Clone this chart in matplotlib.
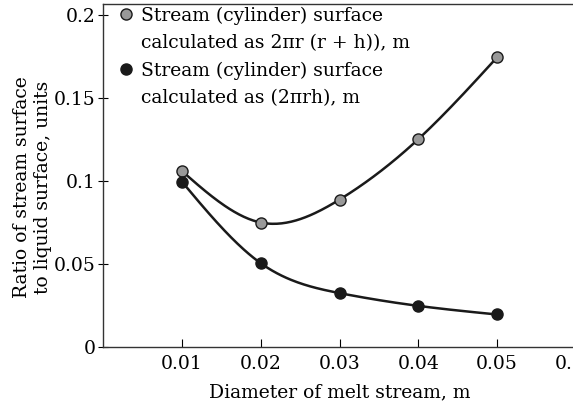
import matplotlib.pyplot as plt
from matplotlib.lines import Line2D
import numpy as np

# diameter of melt stream, m
diam = [0.01, 0.02, 0.03, 0.04, 0.05]
# ratio with surface 2*pi*r*(r+h)
ratio_full = [0.106, 0.075, 0.0888, 0.1252, 0.1745]
# ratio with surface 2*pi*r*h
ratio_side = [0.0996, 0.0505, 0.0325, 0.0248, 0.0196]

lab_full = "Stream (cylinder) surface\ncalculated as 2\u03c0r (r + h)), m"
lab_side = "Stream (cylinder) surface\ncalculated as (2\u03c0rh), m"


def spline(x, y, n=200):
    # natural cubic spline, just for drawing the smooth line
    x = np.asarray(x, float)
    y = np.asarray(y, float)
    k = len(x)
    h = np.diff(x)
    A = np.zeros((k, k))
    b = np.zeros(k)
    A[0, 0] = A[-1, -1] = 1
    for i in range(1, k - 1):
        A[i, i - 1] = h[i - 1]
        A[i, i] = 2 * (h[i - 1] + h[i])
        A[i, i + 1] = h[i]
        b[i] = 6 * ((y[i + 1] - y[i]) / h[i] - (y[i] - y[i - 1]) / h[i - 1])
    M = np.linalg.solve(A, b)
    xs = np.linspace(x[0], x[-1], n)
    j = np.clip(np.searchsorted(x, xs) - 1, 0, k - 2)
    t0 = x[j + 1] - xs
    t1 = xs - x[j]
    hj = h[j]
    ys = (M[j] * t0**3 + M[j + 1] * t1**3) / (6 * hj) \
        + (y[j] / hj - M[j] * hj / 6) * t0 + (y[j + 1] / hj - M[j + 1] * hj / 6) * t1
    return xs, ys


plt.rcParams['font.family'] = ['DejaVu Serif']
plt.rcParams['font.size'] = 13.5

fig = plt.figure(figsize=(5.73, 4.04), dpi=100)
ax = fig.add_axes([0.18, 0.141, 0.825, 0.849])

xs, ys = spline(diam, ratio_full)
ax.plot(xs, ys, color="#1a1a1a", lw=1.8)
xs, ys = spline(diam, ratio_side)
ax.plot(xs, ys, color="#1a1a1a", lw=1.8)
p1, = ax.plot(diam, ratio_full, "o", ms=8, mfc="#999999", mec="#1a1a1a", mew=1.0, ls="none")
p2, = ax.plot(diam, ratio_side, "o", ms=8, mfc="#1a1a1a", mec="#1a1a1a", mew=1.0, ls="none")

ax.set_xlim(0, 0.06)
ax.set_ylim(0, 0.2066)
ax.set_xticks([0.01, 0.02, 0.03, 0.04, 0.05, 0.06])
ax.set_xticklabels(["0.01", "0.02", "0.03", "0.04", "0.05", "0.06"])
ax.set_yticks([0, 0.05, 0.1, 0.15, 0.2])
ax.set_yticklabels(["0", "0.05", "0.1", "0.15", "0.2"])
ax.tick_params(axis="x", direction="in", length=6, pad=6)
ax.tick_params(axis="y", direction="inout", length=7, pad=2)
ax.spines["right"].set_visible(False)
for s in ["left", "bottom", "top"]:
    ax.spines[s].set_linewidth(1.0)
    ax.spines[s].set_color("#333333")

ax.set_xlabel("Diameter of melt stream, m", labelpad=7)
ax.set_ylabel("Ratio of stream surface\nto liquid surface, units")
ax.yaxis.set_label_coords(-0.108, 0.466)

# legend: marker on the first line of each two-line label
blank = Line2D([], [], ls="none", marker=None)
handles = [p1, blank, p2, blank]
labels = lab_full.split("\n") + lab_side.split("\n")
ax.legend(handles, labels, loc="upper left", frameon=False, handletextpad=0.35,
          borderaxespad=0.0, labelspacing=0.5, handlelength=0.9,
          bbox_to_anchor=(0.015, 1.014))

fig.savefig("out.png", dpi=100)
